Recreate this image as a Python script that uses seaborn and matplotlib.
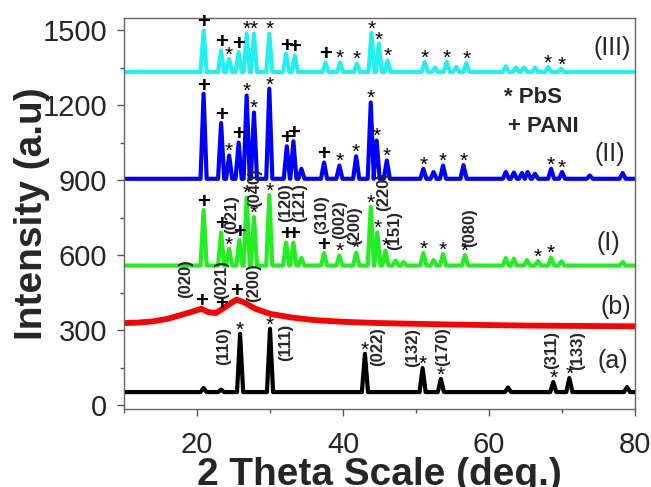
import matplotlib
matplotlib.use("Agg")
import matplotlib.pyplot as plt
import seaborn as sns
import pandas as pd
from matplotlib.ticker import MultipleLocator

sns.set_theme(style="white")
plt.rcParams['font.family'] = ['Liberation Sans', 'DejaVu Sans']

# ---------------- data ----------------
X_MIN, X_MAX = 10, 80

# (a) PbS - black
base_a = 52
pos_a = [20.9, 23.3, 25.9, 30.0, 43.0, 50.9, 53.4, 62.6, 68.8, 71.0, 78.9]
top_a = [68, 62, 285, 305, 205, 148, 105, 70, 92, 108, 72]
mark_a = ['', '', '*', '*', '*', '*', '*', '', '*', '*', '']

# (b) PANI - red (broad hump)
x_b = [10, 12, 14, 16, 18, 19.5, 20.6, 21.5, 22.6, 24.0, 25.4, 26.5, 28, 30, 33, 36, 40, 45, 50, 55, 60, 65, 70, 75, 80]
y_b = [328, 330, 335, 345, 362, 375, 385, 372, 368, 395, 422, 410, 385, 365, 350, 340, 333, 328, 325, 322, 320, 318, 317, 316, 315]
mark_b_x = [20.6, 23.4, 25.4]
mark_b_y = [385, 372, 422]

# (I) - green
base_1 = 558
pos_1 = [20.9, 23.3, 24.4, 25.8, 26.8, 27.8, 29.9, 32.2, 33.2, 34.3, 37.4, 39.5, 41.8, 43.8, 44.7, 45.8,
         47.2, 48.3, 51.0, 52.4, 53.7, 56.7, 62.3, 63.4, 65.2, 66.7, 68.5, 69.9, 78.3]
top_1 = [780, 690, 625, 660, 830, 752, 840, 650, 650, 588, 608, 598, 610, 792, 690, 618,
         578, 572, 608, 580, 604, 600, 588, 586, 580, 576, 590, 575, 572]
mark_1 = ['+', '+', '*', '+', '*', '*', '*', '+', '+', '', '+', '*', '*', '*', '*', '*',
          '', '', '*', '', '*', '*', '', '', '', '*', '*', '', '']

# (II) - blue
base_2 = 905
pos_2 = [20.9, 23.3, 24.4, 25.7, 26.8, 27.8, 29.9, 32.3, 33.2, 34.3, 37.4, 39.5, 41.8, 43.8, 44.6, 46.0,
         51.0, 52.4, 53.7, 56.5, 62.3, 63.4, 64.5, 65.3, 66.3, 68.5, 70.0, 73.8, 78.3]
top_2 = [1245, 1128, 998, 1050, 1238, 1170, 1265, 1035, 1055, 945, 970, 958, 995, 1210, 1058, 978,
         945, 932, 958, 960, 932, 930, 928, 932, 925, 945, 932, 918, 928]
mark_2 = ['+', '+', '*', '+', '*', '*', '*', '+', '+', '', '+', '*', '*', '*', '*', '*',
          '*', '', '*', '*', '', '', '', '', '', '*', '*', '', '']

# (III) - cyan
base_3 = 1332
pos_3 = [20.9, 23.3, 24.4, 25.7, 26.8, 27.8, 29.9, 32.2, 33.4, 37.6, 39.6, 41.9, 43.9, 44.9, 46.1,
         51.2, 52.6, 54.2, 55.5, 56.9, 62.3, 63.7, 64.8, 66.3, 68.1, 69.9]
top_3 = [1498, 1418, 1385, 1412, 1485, 1485, 1485, 1405, 1398, 1370, 1370, 1366, 1488, 1445, 1378,
         1372, 1350, 1372, 1352, 1368, 1355, 1350, 1350, 1350, 1352, 1345]
mark_3 = ['+', '+', '*', '+', '*', '*', '*', '+', '+', '+', '*', '*', '*', '*', '*',
          '*', '', '*', '', '*', '', '', '', '', '*', '*']

# hkl labels (text, x, y center)
hkl_text = ['(110)', '(111)', '(022)', '(132)', '(170)', '(311)', '(133)',
            '(020)', '(021)', '(200)',
            '(021)', '(040)', '(120)', '(121)', '(310)', '(002)', '(200)', '(220)', '(151)', '(080)']
hkl_x = [23.6, 32.1, 44.8, 49.6, 53.7, 68.6, 72.2,
         18.4, 23.4, 27.7,
         24.8, 27.9, 32.2, 34.1, 37.1, 39.6, 41.6, 45.5, 47.1, 57.4]
hkl_y = [236, 252, 236, 232, 236, 220, 220,
         504, 500, 488,
         760, 868, 808, 812, 760, 740, 716, 852, 700, 708]

curve_names = ['(III)', '(II)', '(I)', '(b)', '(a)']
curve_label_x = [76.8, 76.6, 76.3, 77.3, 77.0]
curve_label_y = [1428, 1004, 648, 392, 176]

legend_lines = ['* PbS', '+ PANI']
legend_x = [62.0, 62.6]
legend_y = [1232, 1116]

# ---------------- build curves ----------------
HW = 0.42  # half width of peak bases (style)

def peak_curve(base, pos, top):
    xs, ys = [X_MIN], [base]
    for p, t in zip(pos, top):
        xs += [p - HW, p, p + HW]
        ys += [base, t, base]
    xs.append(X_MAX)
    ys.append(base)
    return pd.DataFrame({'x': xs, 'y': ys})

fig = plt.figure(figsize=(6.51, 4.87), dpi=100)
ax = fig.add_axes([0.1905, 0.160, 0.785, 0.803])

lw = 3.0
series = [
    (peak_curve(base_a, pos_a, top_a), 'black'),
    (pd.DataFrame({'x': x_b, 'y': y_b}), '#ff0000'),
    (peak_curve(base_1, pos_1, top_1), '#22ee22'),
    (peak_curve(base_2, pos_2, top_2), '#0000ff'),
    (peak_curve(base_3, pos_3, top_3), '#22f0f0'),
]
for df, col in series:
    sns.lineplot(data=df, x='x', y='y', ax=ax, color=col, lw=lw,
                 estimator=None, sort=False)
ax.lines[1].set_linewidth(4.2)

# ---------------- markers ----------------
def put_marks(pos, top, marks):
    for p, t, m in zip(pos, top, marks):
        if m == '+':
            ax.annotate('+', (p, t), xytext=(0, -2), textcoords='offset points',
                        ha='center', va='bottom', fontsize=16, fontweight='bold', color='black')
        elif m == '*':
            ax.annotate('*', (p, t), xytext=(0, -4), textcoords='offset points',
                        ha='center', va='bottom', fontsize=15, color='black')

put_marks(pos_a, top_a, mark_a)
put_marks(pos_1, top_1, mark_1)
put_marks(pos_2, top_2, mark_2)
put_marks(pos_3, top_3, mark_3)
put_marks(mark_b_x, mark_b_y, ['+'] * len(mark_b_x))

for t, x, y in zip(hkl_text, hkl_x, hkl_y):
    ax.text(x, y, t, rotation=90, ha='center', va='center', fontsize=12, fontweight='bold')

for t, x, y in zip(curve_names, curve_label_x, curve_label_y):
    ax.text(x, y, t, ha='center', va='center', fontsize=18)

for t, x, y in zip(legend_lines, legend_x, legend_y):
    ax.text(x, y, t, ha='left', va='center', fontsize=16, fontweight='bold')

# ---------------- axes ----------------
ax.set_xlim(X_MIN, X_MAX)
ax.set_ylim(-16, 1548)
ax.xaxis.set_major_locator(MultipleLocator(20))
ax.xaxis.set_minor_locator(MultipleLocator(10))
ax.yaxis.set_major_locator(MultipleLocator(300))
ax.yaxis.set_minor_locator(MultipleLocator(150))
ax.tick_params(axis='both', which='major', direction='out', length=5, width=1,
               labelsize=21, color='#555555', bottom=True, left=True)
ax.tick_params(axis='x', which='major', pad=11)
ax.tick_params(axis='y', which='major', pad=7)
ax.tick_params(axis='both', which='minor', direction='out', length=3, width=1,
               color='#555555', bottom=True, left=True)
for s in ax.spines.values():
    s.set_color('#666666')
    s.set_linewidth(1.0)

ax.set_xlabel('2 Theta Scale (deg.)', fontsize=28, fontweight='bold', labelpad=-2)
ax.set_ylabel('Intensity (a.u)', fontsize=28, fontweight='bold', labelpad=-5)

fig.savefig('out.png', dpi=100)
